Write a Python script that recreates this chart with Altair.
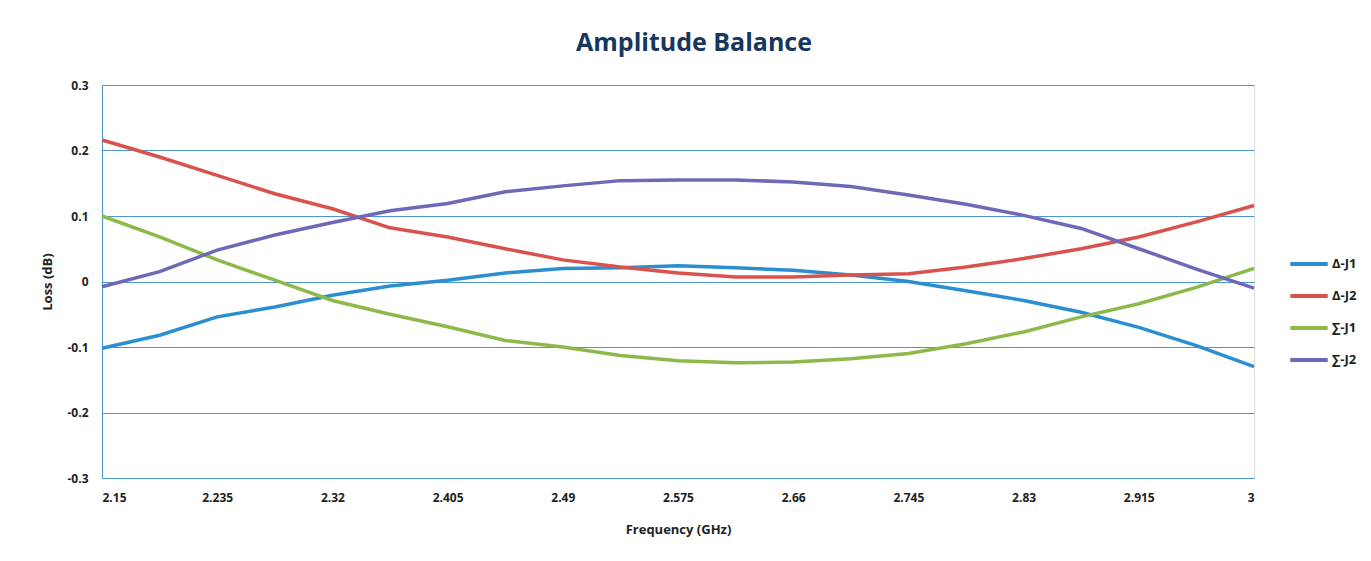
import altair as alt
import pandas as pd

freq = [2.15, 2.1925, 2.235, 2.2775, 2.32, 2.3625, 2.405, 2.4475, 2.49, 2.5325,
        2.575, 2.6175, 2.66, 2.7025, 2.745, 2.7875, 2.83, 2.8725, 2.915, 2.9575, 3.0]

delta_j1 = [-0.102, -0.082, -0.054, -0.039, -0.021, -0.007, 0.002, 0.013, 0.020, 0.021,
            0.024, 0.021, 0.017, 0.010, 0.000, -0.014, -0.029, -0.047, -0.070, -0.098, -0.130]
delta_j2 = [0.216, 0.190, 0.162, 0.134, 0.111, 0.082, 0.068, 0.050, 0.033, 0.022,
            0.013, 0.007, 0.007, 0.010, 0.012, 0.022, 0.035, 0.050, 0.068, 0.091, 0.116]
sigma_j1 = [0.100, 0.068, 0.033, 0.002, -0.029, -0.050, -0.069, -0.090, -0.100, -0.113,
            -0.121, -0.124, -0.123, -0.118, -0.110, -0.095, -0.077, -0.054, -0.034, -0.009, 0.020]
sigma_j2 = [-0.008, 0.015, 0.048, 0.071, 0.090, 0.108, 0.119, 0.137, 0.146, 0.154,
            0.155, 0.155, 0.152, 0.145, 0.132, 0.118, 0.101, 0.081, 0.050, 0.019, -0.010]

series_names = ["Δ-J1", "Δ-J2", "∑-J1", "∑-J2"]
series_colors = ["#2A8ED0", "#D9524E", "#8DB84A", "#6D69B6"]
x_ticks = [2.15, 2.235, 2.32, 2.405, 2.49, 2.575, 2.66, 2.745, 2.83, 2.915, 3]
y_ticks = [-0.3, -0.2, -0.1, 0, 0.1, 0.2, 0.3]

rows = []
for name, vals in zip(series_names, [delta_j1, delta_j2, sigma_j1, sigma_j2]):
    for f, v in zip(freq, vals):
        rows.append({"Frequency": f, "Loss": v, "Series": name})
df = pd.DataFrame(rows)

FONT = "Open Sans"

chart = alt.Chart(df).mark_line(strokeWidth=3.5, interpolate="linear").encode(
    x=alt.X("Frequency:Q",
            scale=alt.Scale(domain=[2.15, 3], nice=False, zero=False),
            axis=alt.Axis(values=x_ticks, title="Frequency (GHz)",
                          labelExpr="toString(datum.value)",
                          grid=False, ticks=False, domain=False,
                          labelPadding=14, titlePadding=20,
                          labelFont=FONT, labelFontSize=12, labelFontWeight="bold",
                          labelColor="#222222",
                          titleFont=FONT, titleFontSize=13, titleFontWeight="bold",
                          titleColor="#222222")),
    y=alt.Y("Loss:Q",
            scale=alt.Scale(domain=[-0.3, 0.3], nice=False, zero=False),
            axis=alt.Axis(values=y_ticks, title="Loss (dB)",
                          labelExpr="toString(round(datum.value*10)/10)",
                          grid=True, gridColor="#4E95CC", gridWidth=1,
                          ticks=False, domain=True, domainColor="#4E95CC",
                          labelPadding=14, titlePadding=12,
                          labelFont=FONT, labelFontSize=12, labelFontWeight="bold",
                          labelColor="#222222",
                          titleFont=FONT, titleFontSize=13, titleFontWeight="bold",
                          titleColor="#222222")),
    color=alt.Color("Series:N",
                    scale=alt.Scale(domain=series_names, range=series_colors),
                    legend=alt.Legend(title=None, orient="none",
                                      legendX=1186, legendY=158,
                                      symbolType="stroke", symbolSize=1400,
                                      symbolStrokeWidth=4, rowPadding=3,
                                      labelFont=FONT, labelFontSize=13,
                                      labelFontWeight="bold", labelColor="#222222",
                                      labelOffset=2)),
).properties(
    width=1152, height=393,
    title=alt.TitleParams("Amplitude Balance", font=FONT, fontSize=25,
                          fontWeight="bold", color="#17365D", offset=23,
                          anchor="middle", dx=16),
    autosize=alt.AutoSizeParams(type="none"),
    padding={"left": 94, "top": 77, "right": 109, "bottom": 75},
).configure_view(stroke=None).configure(background="white")

chart.save("out.html", embed_options={"renderer": "svg", "actions": False})
